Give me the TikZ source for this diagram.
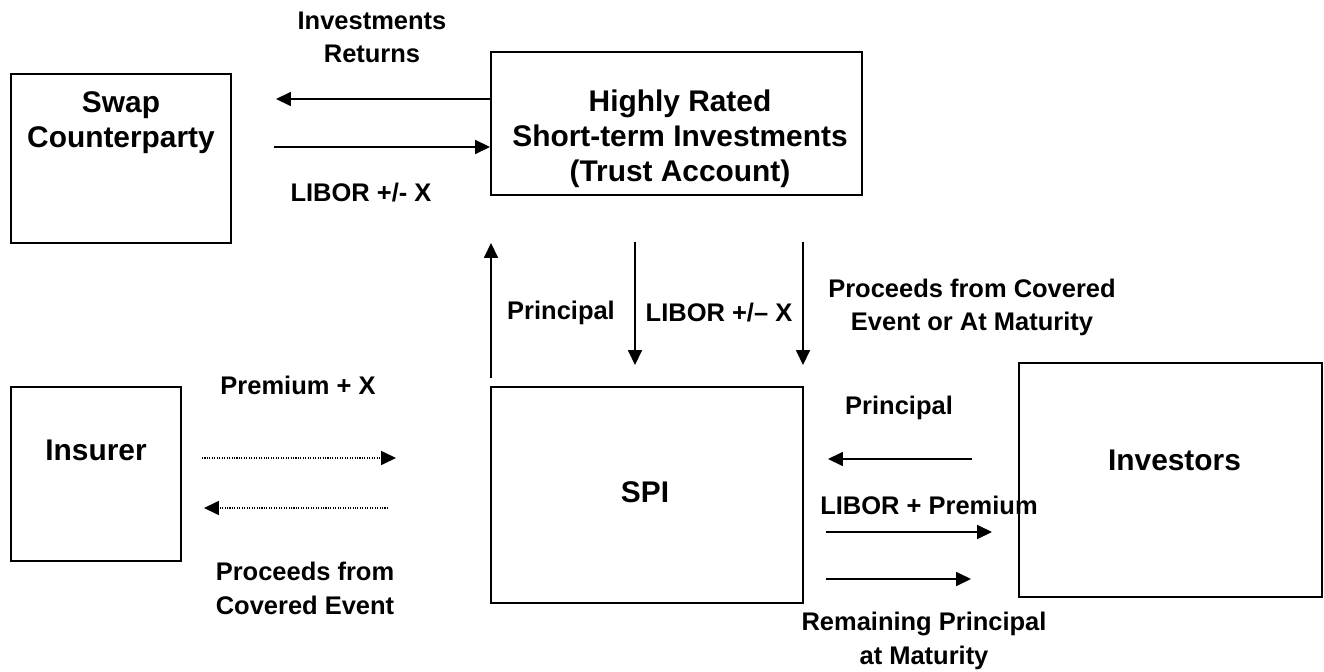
\documentclass[tikz,border=0pt]{standalone}
\usepackage{fontspec}
\setmainfont{Liberation Sans}
\usetikzlibrary{arrows.meta}

\begin{document}
\begin{tikzpicture}[
  box/.style={draw, line width=1.1pt, inner sep=0pt},
  boxtext/.style={font=\fontsize{17}{20}\selectfont\bfseries, align=center},
  lbl/.style={font=\fontsize{14.5}{19}\selectfont\bfseries, align=center},
  flow/.style={line width=0.8pt, -{Triangle[length=8.5pt,width=8pt]}},
  dotflow/.style={flow, line width=0.7pt, dash pattern=on 0.6pt off 0.8pt}
]
\useasboundingbox (0,0) rectangle (26.48,13.42);

% boxes
\node[box, minimum width=4.4cm, minimum height=3.38cm] (swap) at (2.42,10.25) {};
\node[box, minimum width=7.42cm, minimum height=2.86cm] (trust) at (13.53,10.95) {};
\node[box, minimum width=3.4cm, minimum height=3.48cm] (insurer) at (1.92,3.94) {};
\node[box, minimum width=6.24cm, minimum height=4.32cm] (spi) at (12.94,3.52) {};
\node[box, minimum width=6.06cm, minimum height=4.68cm] (investors) at (23.41,3.82) {};

\node[boxtext] (swap text) at (2.42,10.97) {Swap\\Counterparty};
\node[boxtext] (trust text) at (13.6,10.64) {Highly Rated\\Short-term Investments\\(Trust Account)};
\node[boxtext] (insurer text) at (1.92,4.42) {Insurer};
\node[boxtext] (spi text) at (12.9,3.58) {SPI};
\node[boxtext] (investors text) at (23.49,4.22) {Investors};

% swap counterparty <-> trust
\coordinate (ret tip) at (5.52,11.44);
\coordinate (swapliborx tail) at (5.48,10.48);
\draw[flow] (trust.west |- ret tip) -- (ret tip);
\draw[flow] (swapliborx tail) -- (trust.west |- swapliborx tail);
\node[lbl] (ret lbl) at (7.44,12.67) {Investments\\Returns};
\node[lbl] (swapliborx lbl) at (7.22,9.56) {LIBOR +/- X};

% trust <-> spi
\coordinate (prin tail) at (9.82,5.86);
\coordinate (prin tip) at (9.82,8.56);
\coordinate (liborx tail) at (12.7,8.58);
\coordinate (liborx tip) at (12.7,6.12);
\coordinate (proc tail) at (16.06,8.58);
\coordinate (proc tip) at (16.06,6.12);
\draw[flow] (prin tail) -- (prin tip);
\draw[flow] (liborx tail) -- (liborx tip);
\draw[flow] (proc tail) -- (proc tip);
\node[lbl] (prin lbl) at (11.22,7.16) {Principal};
\node[lbl] (liborx lbl) at (14.38,7.16) {LIBOR +/\textendash{} X};
\node[lbl] (proc lbl) at (19.44,7.27) {Proceeds from Covered\\Event or At Maturity};

% insurer <-> spi
\coordinate (prem tail) at (4.04,4.26);
\coordinate (prem tip) at (7.92,4.26);
\coordinate (cov tail) at (7.76,3.26);
\coordinate (cov tip) at (4.08,3.26);
\draw[dotflow] (prem tail) -- (prem tip);
\draw[dotflow] (cov tail) -- (cov tip);
\node[lbl] (prem lbl) at (5.96,5.72) {Premium + X};
\node[lbl] (cov lbl) at (6.1,1.65) {Proceeds from\\Covered Event};

% spi <-> investors
\coordinate (invprin tail) at (19.44,4.24);
\coordinate (invprin tip) at (16.56,4.24);
\coordinate (libprem tail) at (16.52,2.78);
\coordinate (libprem tip) at (19.84,2.78);
\coordinate (rem tail) at (16.52,1.84);
\coordinate (rem tip) at (19.42,1.84);
\draw[flow] (invprin tail) -- (invprin tip);
\draw[flow] (libprem tail) -- (libprem tip);
\draw[flow] (rem tail) -- (rem tip);
\node[lbl] (invprin lbl) at (17.98,5.26) {Principal};
\node[lbl] (libprem lbl) at (18.58,3.32) {LIBOR + Premium};
\node[lbl] (rem lbl) at (18.48,0.6) {Remaining Principal\\at Maturity};
\end{tikzpicture}
\end{document}
